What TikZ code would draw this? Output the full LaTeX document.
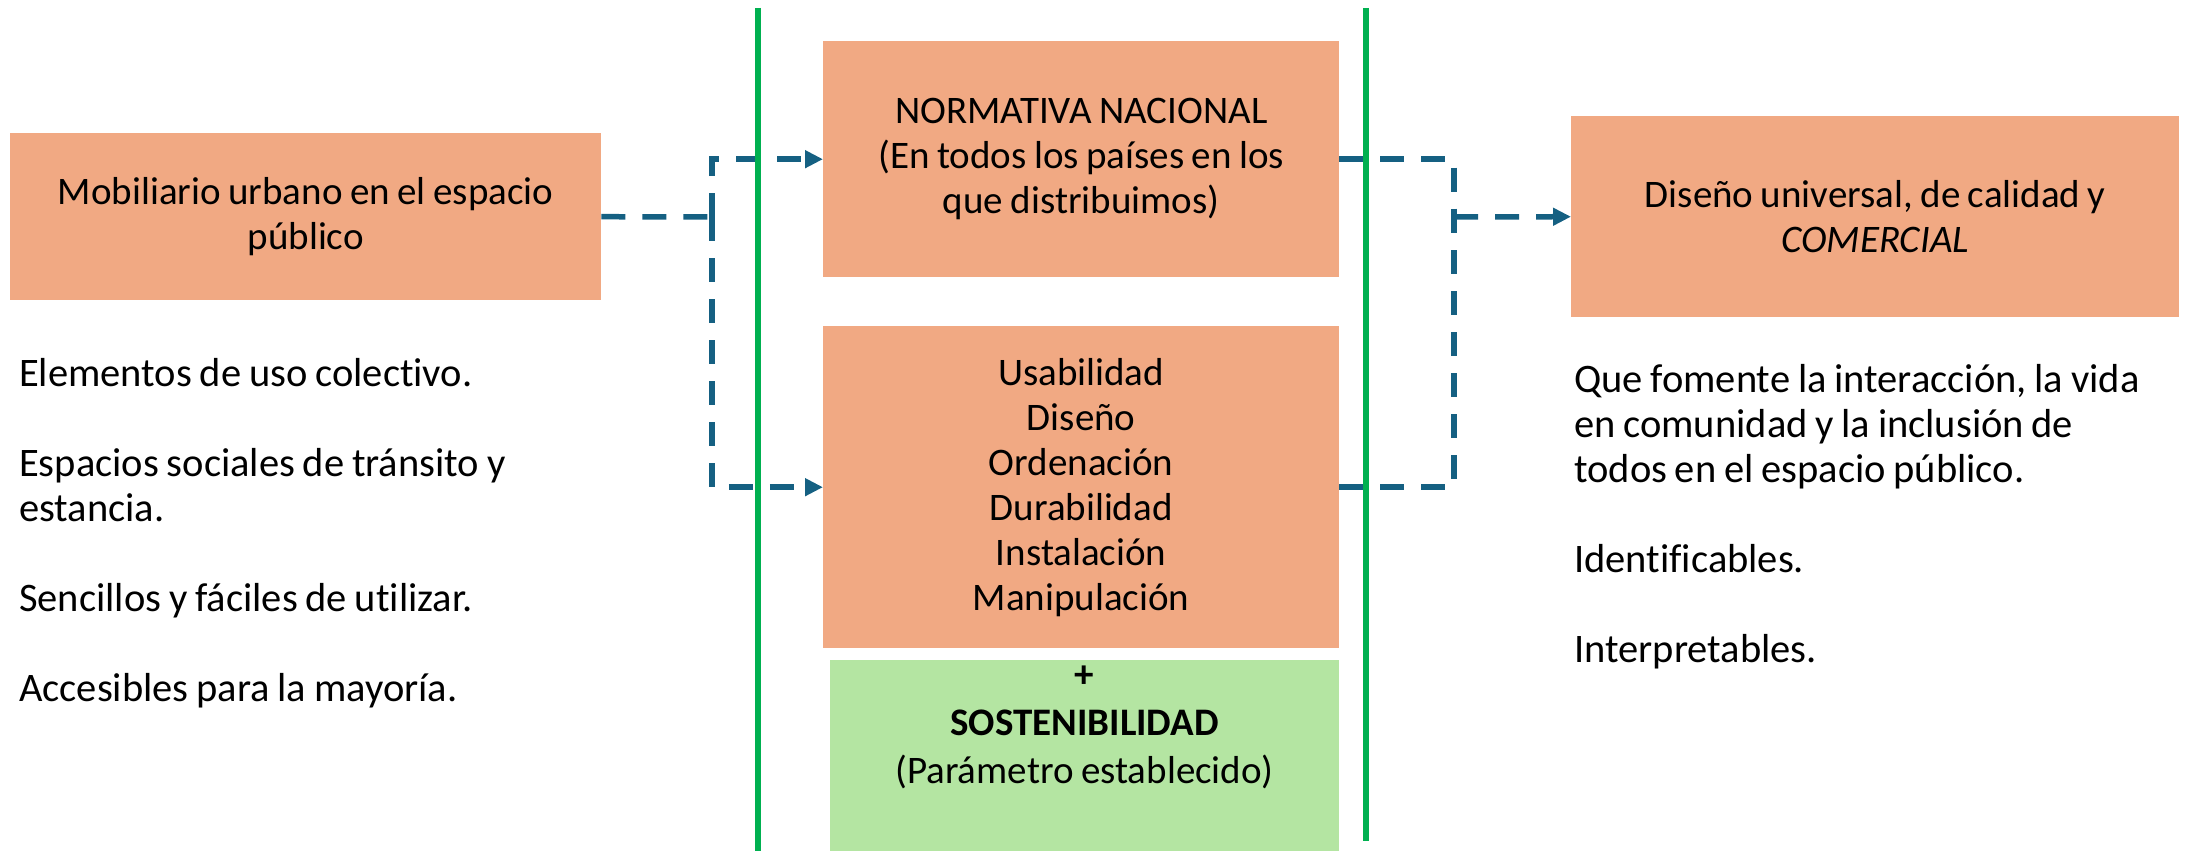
\documentclass[tikz,border=0pt]{standalone}
\usepackage{fontspec}
\setmainfont{Carlito}[WordSpace=0.85,Ligatures=NoCommon]
\usetikzlibrary{arrows.meta}
\definecolor{boxorange}{HTML}{F1A983}
\definecolor{boxgreen}{HTML}{B4E5A2}
\definecolor{linegreen}{HTML}{00B050}
\definecolor{connblue}{HTML}{156082}
\begin{document}
\begin{tikzpicture}[x=1pt,y=-1pt,
  fbox/.style={fill=boxorange, draw=none, inner sep=0pt, anchor=north west, align=center, font=\fontsize{39}{45}\selectfont},
  txt/.style={inner sep=0pt, anchor=north west, align=left, font=\fontsize{40.5}{45}\selectfont},
  conn/.style={draw=connblue, line width=5.5pt, dash pattern=on 24pt off 17pt},
  tip/.style={-{Triangle[length=18pt,width=17pt]}},
  gline/.style={draw=linegreen, line width=5.5pt}]
\useasboundingbox (0,0) rectangle (2197,851);

\node[fbox, minimum width=591pt, minimum height=167pt] (mob) at (10,133) {Mobiliario urbano en el espacio\\público};
\node[fbox, minimum width=516pt, minimum height=236pt] (norm) at (823,41) {NORMATIVA NACIONAL\\(En todos los países en los\\que distribuimos)};
\node[fbox, minimum width=516pt, minimum height=322pt] (usab) at (823,326) {Usabilidad\\Diseño\\Ordenación\\Durabilidad\\Instalación\\Manipulación};
\node[fbox, minimum width=608pt, minimum height=201pt] (dis) at (1571,116) {Diseño universal, de calidad y\\\textit{COMERCIAL}};
\node[fill=boxgreen, inner sep=0pt, anchor=north west, minimum width=509pt, minimum height=191pt] (sost) at (830,660) {};
\node[inner sep=0pt, align=center, font=\fontsize{39}{48}\selectfont] (sosttxt) at (1084.5,727) {\textbf{+}\\\textbf{SOSTENIBILIDAD}\\(Parámetro establecido)};

\node[txt] (ltxt) at (19,358) {Elementos de uso colectivo.\\[45pt]Espacios sociales de tránsito y\\estancia.\\[45pt]Sencillos y fáciles de utilizar.\\[45pt]Accesibles para la mayoría.};
\node[txt] (rtxt) at (1574,364) {Que fomente la interacción, la vida\\en comunidad y la inclusión de\\todos en el espacio público.\\[45pt]Identificables.\\[45pt]Interpretables.};

\coordinate (jl) at (712,217);
\coordinate (jr) at (1454,217);
\draw[conn] (mob.east) -- (jl);
\draw[conn,tip] (jl) |- (norm.west);
\draw[conn,tip] (jl) |- (usab.west);
\draw[conn] (norm.east) -| (jr);
\draw[conn] (usab.east) -| (jr);
\draw[conn,tip] (jr) -- (dis.west);

\draw[gline] (758,8) -- (758,851);
\draw[gline] (1366,8) -- (1366,841);
\end{tikzpicture}
\end{document}
